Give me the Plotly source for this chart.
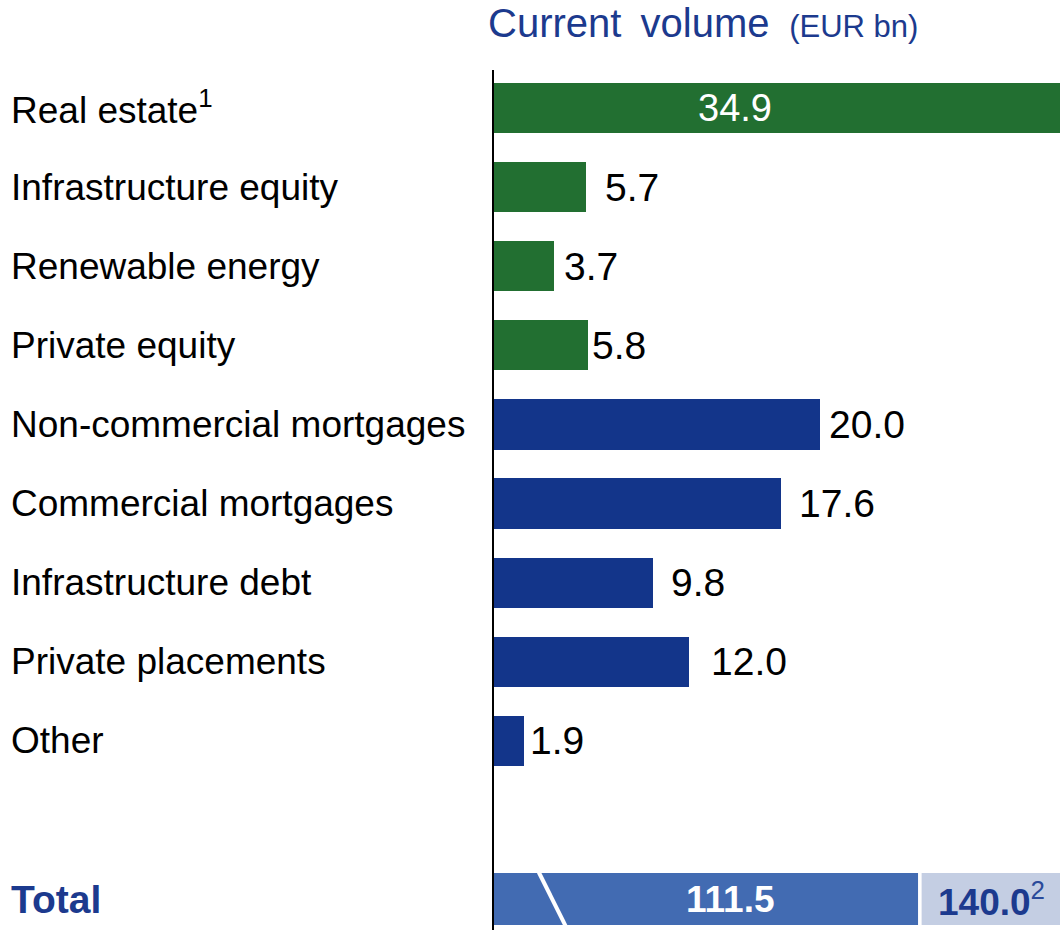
import plotly.graph_objects as go

# Asset classes and current volumes (EUR bn)
categories = [
    "Real estate", "Infrastructure equity", "Renewable energy", "Private equity",
    "Non-commercial mortgages", "Commercial mortgages", "Infrastructure debt",
    "Private placements", "Other",
]
volumes = [34.9, 5.7, 3.7, 5.8, 20.0, 17.6, 9.8, 12.0, 1.9]
groups = ["equity", "equity", "equity", "equity", "debt", "debt", "debt", "debt", "debt"]

total_label = "Total"
total_invested = 111.5
total_overall = 140.0

GREEN = "#226F31"
NAVY = "#13358A"
TOTAL_BLUE = "#426BB2"
TOTAL_LIGHT = "#C4CEE3"
TITLE_BLUE = "#1C3A8E"
FONT = "Liberation Sans, Arial, sans-serif"

# Pixel gap between each bar end and its value label
label_gap = [0, 17, 8, 2, 7, 16, 16, 20, 4]

W, H = 1060, 930
ML, MT = 493, 70
plot_w = W - ML

y_pos = list(range(len(categories)))
total_pos = len(categories) + 1
px_per_unit = 16.35
x_max = plot_w / px_per_unit

# Broken scale for the total row: left edge of the axis sits at break_start
break_start = 26.1

fig = go.Figure()

fig.add_trace(go.Bar(
    y=y_pos, x=volumes, orientation="h",
    marker=dict(color=[GREEN if g == "equity" else NAVY for g in groups], line=dict(width=0)),
    width=0.635, hoverinfo="skip", showlegend=False,
))

# Total row on its own (broken) axis
fig.add_trace(go.Bar(
    y=[total_pos], x=[total_invested], orientation="h", xaxis="x2",
    marker=dict(color=TOTAL_BLUE, line=dict(width=0)),
    width=0.66, hoverinfo="skip", showlegend=False,
))
fig.add_trace(go.Bar(
    y=[total_pos], x=[total_overall - total_invested], base=[total_invested],
    orientation="h", xaxis="x2",
    marker=dict(color=TOTAL_LIGHT, line=dict(width=0)),
    width=0.66, hoverinfo="skip", showlegend=False,
))

annotations = []

# Category labels, left aligned
label_x = (9 - ML) / plot_w
for i, name in enumerate(categories):
    txt = name + ("<sup>1</sup>" if i == 0 else "")
    annotations.append(dict(
        x=label_x, xref="paper", y=y_pos[i], yref="y", text=txt,
        xanchor="left", yanchor="middle", showarrow=False,
        font=dict(family=FONT, size=37, color="black"),
    ))
annotations.append(dict(
    x=label_x, xref="paper", y=total_pos, yref="y", text="<b>" + total_label + "</b>",
    xanchor="left", yanchor="middle", showarrow=False,
    font=dict(family=FONT, size=39, color=TITLE_BLUE),
))

# Value labels
for i, v in enumerate(volumes):
    if v > x_max * 0.9:
        annotations.append(dict(
            x=x_max * 0.427, y=y_pos[i], xref="x", yref="y", text=f"{v:.1f}",
            xanchor="center", yanchor="middle", showarrow=False,
            font=dict(family=FONT, size=38, color="white"),
        ))
    else:
        annotations.append(dict(
            x=v, y=y_pos[i], xref="x", yref="y", text=f"{v:.1f}",
            xanchor="left", yanchor="middle", xshift=label_gap[i], showarrow=False,
            font=dict(family=FONT, size=39, color="black"),
        ))

annotations.append(dict(
    x=(break_start + total_invested) / 2 + 5, y=total_pos, xref="x2", yref="y",
    text=f"<b>{total_invested:.1f}</b>", xanchor="center", yanchor="middle",
    showarrow=False, font=dict(family=FONT, size=37, color="white"),
))
annotations.append(dict(
    x=total_invested, y=total_pos, xref="x2", yref="y",
    text=f"<b>{total_overall:.1f}</b><sup><span style='color:#2A4A9A'>2</span></sup>",
    xanchor="left", yanchor="middle", xshift=18, showarrow=False,
    font=dict(family=FONT, size=37, color=TITLE_BLUE),
))

# Title
annotations.append(dict(
    x=(486 - ML) / plot_w, xref="paper", y=1 + (MT - 23) / (H - MT), yref="paper",
    text="Current&#8201; volume <span style='font-size:31px'>&nbsp;(EUR bn)</span>",
    xanchor="left", yanchor="middle", showarrow=False,
    font=dict(family=FONT, size=40, color=TITLE_BLUE),
))

shapes = [
    # white gap between the two total segments
    dict(type="line", xref="x2", yref="y", x0=total_invested + 0.35, x1=total_invested + 0.35,
         y0=total_pos - 0.34, y1=total_pos + 0.34, line=dict(color="white", width=3.5)),
    # axis break marker
    dict(type="line", xref="x2", yref="y", x0=break_start + 9.2, x1=break_start + 14.6,
         y0=total_pos - 0.34, y1=total_pos + 0.34, line=dict(color="white", width=4)),
]

fig.update_layout(
    width=W, height=H,
    margin=dict(l=ML, r=0, t=MT, b=0, pad=0),
    paper_bgcolor="white", plot_bgcolor="white",
    barmode="overlay", bargap=0,
    xaxis=dict(range=[0, x_max], visible=False, fixedrange=True),
    xaxis2=dict(range=[break_start, total_overall], overlaying="x", visible=False),
    yaxis=dict(
        range=[total_pos + 0.39, -0.48], showticklabels=False, showgrid=False,
        zeroline=False, ticks="",
    ),
    annotations=annotations,
    shapes=shapes,
)
fig.add_shape(type="line", xref="paper", yref="paper", x0=0, x1=0, y0=0, y1=1,
              line=dict(color="black", width=2))

fig.write_html("out.html")
